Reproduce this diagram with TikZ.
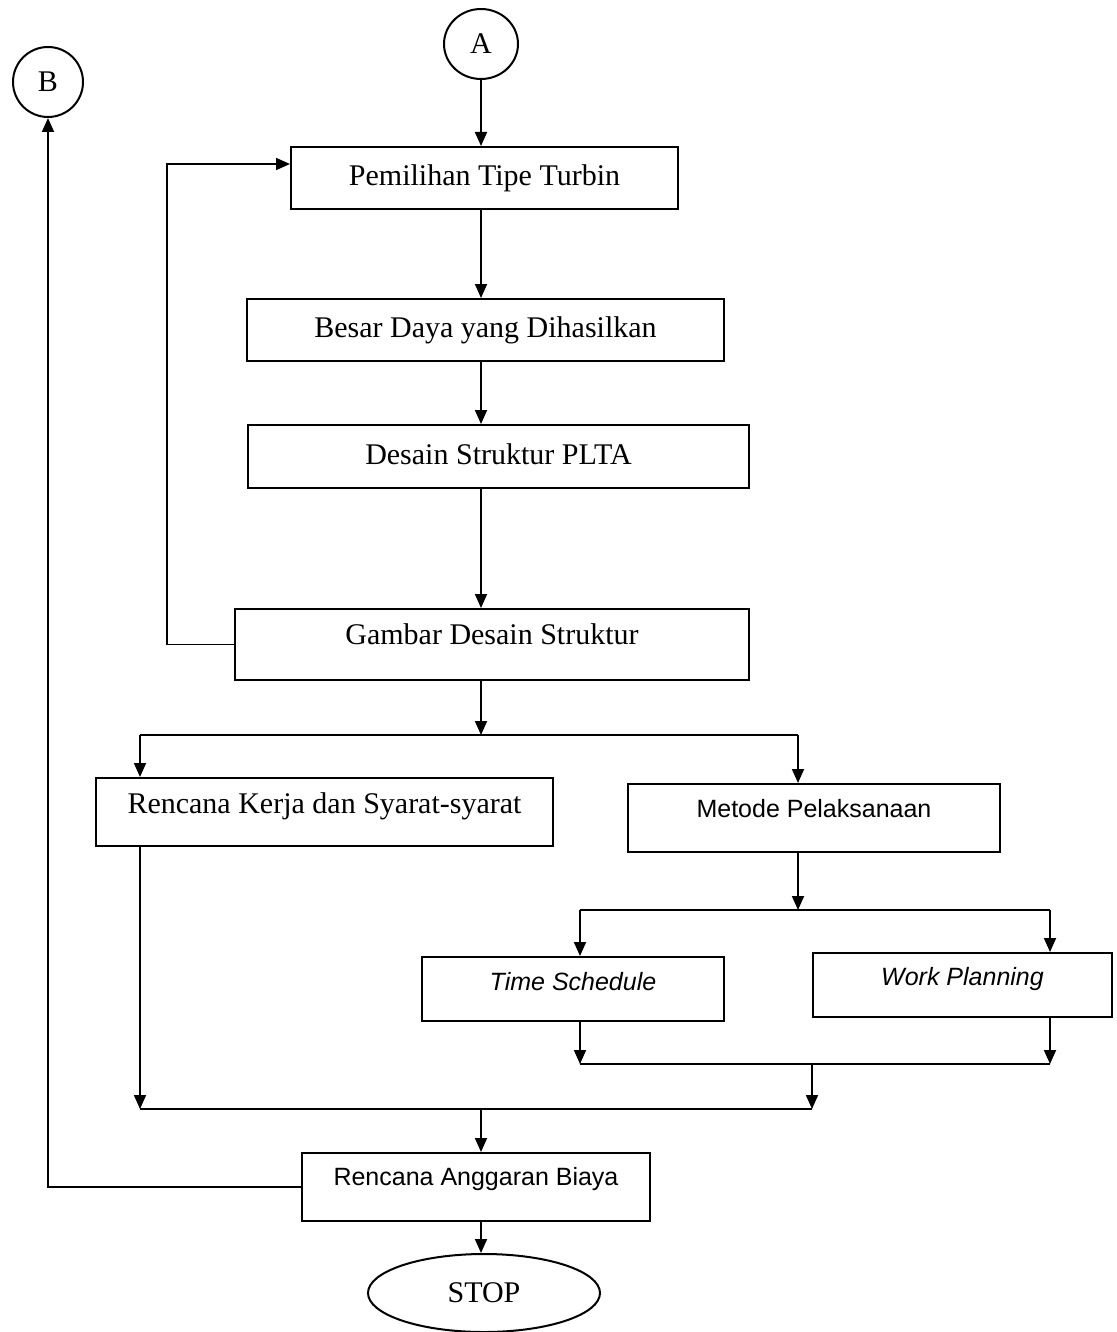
\documentclass[tikz,border=0pt]{standalone}
\usepackage{fontspec}
\setmainfont{Liberation Serif}
\newfontfamily\arialfont{Liberation Sans}
\usetikzlibrary{arrows.meta,shapes.geometric}

\tikzset{
  box/.style={draw, line width=1pt, inner sep=0pt,
    font=\fontsize{15}{18}\selectfont, text height=10.5pt, text depth=#1},
  box/.default=3pt,
  sbox/.style={draw, line width=1pt, inner sep=0pt,
    font=\arialfont\fontsize{12.5}{15}\selectfont, text height=9pt, text depth=#1},
  sbox/.default=2pt,
  conn/.style={draw, ellipse, line width=1pt, inner sep=0pt,
    font=\fontsize{15}{18}\selectfont},
  arr/.style={-{Triangle[width=6pt,length=7pt]}, line width=0.9pt},
  ln/.style={line width=0.9pt}
}

\begin{document}
\begin{tikzpicture}[x=0.5pt,y=-0.5pt]
	\useasboundingbox (0,0) rectangle (1117,1332);
	
	% connectors
	\node[conn, minimum width=37pt, minimum height=35pt] (A) at (481,44) {A};
	\node[conn, minimum width=35pt, minimum height=35pt] (B) at (48,82)  {B};
	
	% main column
	\node[box, minimum width=193.5pt, minimum height=31pt]   (turbin) at (484.5,178) {Pemilihan Tipe Turbin};
	\node[box, minimum width=238.5pt, minimum height=31pt]   (daya)   at (485.5,330) {Besar Daya yang Dihasilkan};
	\node[box, minimum width=250.5pt, minimum height=31.5pt] (plta)   at (498.5,456.5) {Desain Struktur PLTA};
	\node[box=10.5pt, minimum width=257pt, minimum height=35.5pt] (gambar) at (492,644.5) {Gambar Desain Struktur};
	
	% two branches
	\node[box=9pt, minimum width=228.5pt, minimum height=34pt] (kerja)  at (324.5,812) {Rencana Kerja dan Syarat-syarat};
	\node[sbox=10pt, minimum width=186pt, minimum height=34pt] (metode) at (814,818)   {Metode Pelaksanaan};
	\node[sbox=8pt, minimum width=151pt, minimum height=32pt]   (schedule) at (573,989)   {\itshape Time Schedule};
	\node[sbox=9pt, minimum width=149.5pt, minimum height=32pt] (planning) at (962.5,985) {\itshape Work Planning};
	
	% end
	\node[sbox=11pt, minimum width=174pt, minimum height=34pt] (biaya) at (476,1187) {Rencana Anggaran Biaya};
	\node[conn, minimum width=116pt, minimum height=39pt] (stop) at (484,1293) {STOP};
	
	\path % branch and join points
	(481,0)    coordinate (spine)
	(167,164)  coordinate (loop)
	(140,735)  coordinate (kL)
	(798,735)  coordinate (kR)
	(580,910)  coordinate (tL)
	(1050,910) coordinate (tR)
	(580,1064) coordinate (mL)
	(1050,1064) coordinate (mR)
	(812,1064) coordinate (mM)
	(140,1109) coordinate (jL)
	(812,1109) coordinate (jR)
	;
	
	\draw[arr] (A) -- (A |- turbin.north);
	\draw[arr] (spine |- turbin.south) -- (spine |- daya.north);
	\draw[arr] (spine |- daya.south) -- (spine |- plta.north);
	\draw[arr] (spine |- plta.south) -- (spine |- gambar.north);
	
	% back to turbine choice
	\draw[arr] (gambar.west) -| (loop) -- (loop -| turbin.west);
	
	\draw[arr] (spine |- gambar.south) -- (spine |- kL);
	\draw[ln]  (kL) -- (kR);
	\draw[arr] (kL) -- (kL |- kerja.north);
	\draw[arr] (kR) -- (kR |- metode.north);
	
	\draw[arr] (kR |- metode.south) -- (kR |- tL);
	\draw[ln]  (tL) -- (tR);
	\draw[arr] (tL) -- (tL |- schedule.north);
	\draw[arr] (tR) -- (tR |- planning.north);
	
	\draw[arr] (mL |- schedule.south) -- (mL);
	\draw[arr] (mR |- planning.south) -- (mR);
	\draw[ln]  (mL) -- (mR);
	
	\draw[arr] (mM) -- (jR);
	\draw[arr] (jL |- kerja.south) -- (jL);
	\draw[ln]  (jL) -- (jR);
	
	\draw[arr] (spine |- jL) -- (spine |- biaya.north);
	\draw[arr] (biaya.west) -| (B);
	\draw[arr] (spine |- biaya.south) -- (spine |- stop.north);
\end{tikzpicture}
\end{document}
